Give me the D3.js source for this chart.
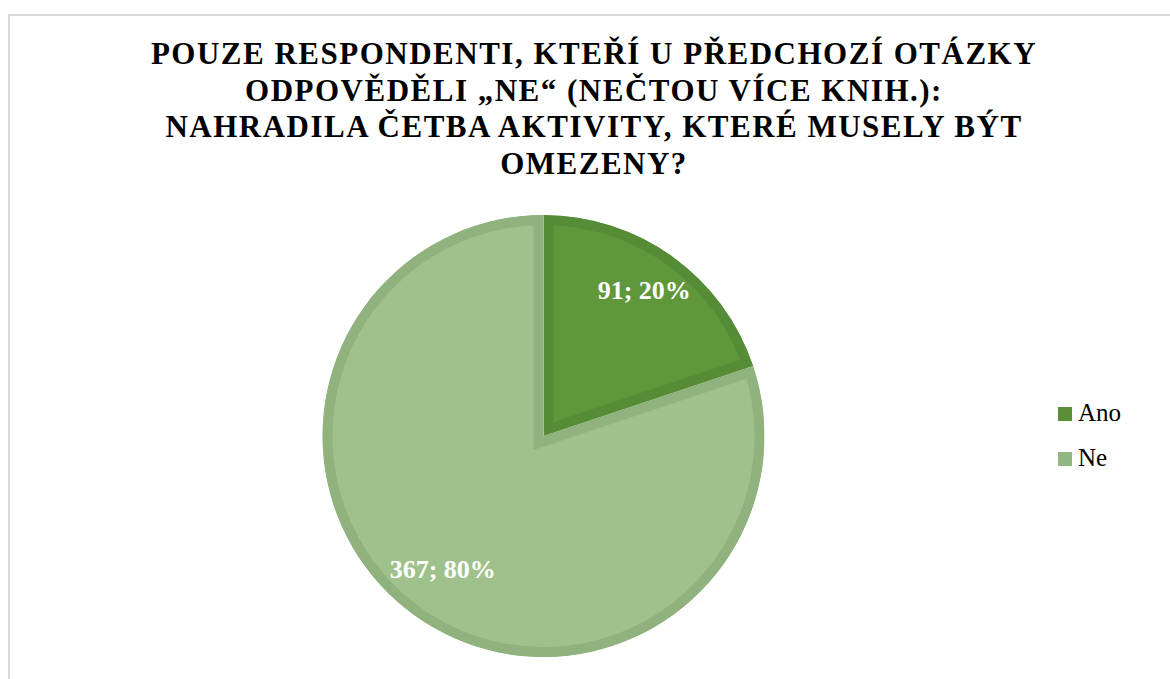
<!DOCTYPE HTML>
<html>
<head>
<meta charset="utf-8">
<script src="https://d3js.org/d3.v7.min.js"></script>
<style>
  body { margin: 0; background: #fff; }
  text { font-family: "Liberation Serif", "Times New Roman", serif; }
</style>
</head>
<body>
<svg width="1170" height="679"></svg>
<script>
var categories = ["Ano", "Ne"];
var counts = [91, 367];
var percents = ["20%", "80%"];
var titleLines = [
  "POUZE RESPONDENTI, KTEŘÍ U PŘEDCHOZÍ OTÁZKY",
  "ODPOVĚDĚLI „NE“ (NEČTOU VÍCE KNIH.):",
  "NAHRADILA ČETBA AKTIVITY, KTERÉ MUSELY BÝT",
  "OMEZENY?"
];

var fills = ["#61973b", "#9fc28c"];
var edges = ["#578c37", "#90b27e"];

var svg = d3.select("svg");

// chart area border
svg.append("rect")
   .attr("x", 9).attr("y", 15)
   .attr("width", 1200).attr("height", 700)
   .attr("fill", "none")
   .attr("stroke", "#d9d9d9")
   .attr("stroke-width", 2);

// title
svg.append("g").selectAll("text")
   .data(titleLines)
   .enter().append("text")
   .attr("x", 594)
   .attr("y", function(d, i) { return 64 + i * 36.5; })
   .attr("text-anchor", "middle")
   .attr("font-size", "31px")
   .attr("font-weight", "bold")
   .attr("letter-spacing", "1.5px")
   .attr("fill", "#000")
   .text(function(d) { return d; });

var cx = 543.5, cy = 436, r = 221;

var pie = d3.pie().sort(null).value(function(d) { return d; });
var arcs = pie(counts);
var arc = d3.arc().innerRadius(0).outerRadius(r);
var labelArc = d3.arc().innerRadius(r * 0.78).outerRadius(r * 0.78);

var g = svg.append("g").attr("transform", "translate(" + cx + "," + cy + ")");

var defs = svg.append("defs");
defs.selectAll("clipPath")
    .data(arcs)
    .enter().append("clipPath")
    .attr("id", function(d, i) { return "clip" + i; })
    .append("path")
    .attr("d", arc);

var slices = g.selectAll(".slice")
    .data(arcs)
    .enter().append("g")
    .attr("class", "slice");

slices.append("path")
    .attr("d", arc)
    .attr("fill", function(d, i) { return fills[i]; })
    .attr("stroke", function(d, i) { return edges[i]; })
    .attr("stroke-width", 20)
    .attr("stroke-linejoin", "miter")
    .attr("clip-path", function(d, i) { return "url(#clip" + i + ")"; });

slices.append("text")
    .attr("transform", function(d) { return "translate(" + labelArc.centroid(d) + ")"; })
    .attr("dy", "0.1em")
    .attr("text-anchor", "middle")
    .attr("font-size", "26px")
    .attr("font-weight", "bold")
    .attr("fill", "#fff")
    .text(function(d, i) { return counts[i] + "; " + percents[i]; });

// legend
var legend = svg.append("g").attr("transform", "translate(1058, 407)");
var items = legend.selectAll("g")
    .data(categories)
    .enter().append("g")
    .attr("transform", function(d, i) { return "translate(0," + i * 45 + ")"; });

items.append("rect")
    .attr("width", 14).attr("height", 14)
    .attr("fill", function(d, i) { return i === 0 ? "#5a8f38" : "#93b783"; });

items.append("text")
    .attr("x", 20)
    .attr("y", 14)
    .attr("font-size", "25px")
    .attr("fill", "#000")
    .text(function(d) { return d; });
</script>
</body>
</html>
